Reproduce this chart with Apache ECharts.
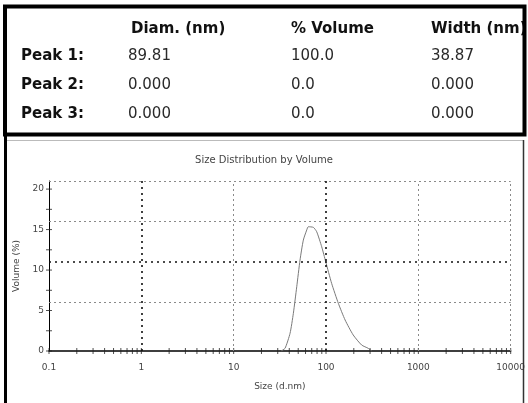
<!DOCTYPE html>
<html>
<head>
<meta charset="utf-8">
<script src="https://cdn.jsdelivr.net/npm/echarts@6/dist/echarts.min.js"></script>
<style>
  html, body { margin: 0; padding: 0; background: #fff; }
  #chart { width: 528px; height: 403px; }
</style>
</head>
<body>
<div id="chart"></div>
<script>
// peak table
var tableHeaders = ['Diam. (nm)', '% Volume', 'Width (nm)'];
var peakNames = ['Peak 1:', 'Peak 2:', 'Peak 3:'];
var peakDiam = ['89.81', '0.000', '0.000'];
var peakVolume = ['100.0', '0.0', '0.0'];
var peakWidth = ['38.87', '0.000', '0.000'];

// size distribution curve (d.nm, volume %)
var sizes = [32.6, 36.0, 40.8, 44.3, 48.2, 52.3, 56.8, 61.8, 64.3, 73.0, 79.3, 89.8, 99.3, 115, 136, 161, 197, 243, 287, 312];
var volumes = [0, 0.33, 2.19, 4.65, 7.94, 11.23, 13.7, 14.94, 15.35, 15.27, 14.73, 12.88, 11.02, 8.36, 5.89, 3.83, 1.98, 0.74, 0.33, 0];

// axes
var xTickLabels = ['0.1', '1', '10', '100', '1000', '10000'];
var xDecades = [0.1, 1, 10, 100, 1000, 10000];
var xMinorSteps = [2, 3, 4, 5, 6, 7, 8, 9];
var yTickValues = [0, 5, 10, 15, 20];
var yMinorValues = [0, 2.5, 5, 7.5, 10, 12.5, 15, 17.5, 20];
// dotted grid lines as printed (shifted from the ticks in the scan)
var gridRowsLight = [6, 16, 21];
var gridRowsDark = [11];
var gridColsLight = [10, 1000, 10000];
var gridColsDark = [1, 100];

var chart = echarts.init(document.getElementById('chart'));

var data = sizes.map(function (s, i) { return [s, volumes[i]]; });

var xTickMarks = [];
xDecades.forEach(function (d) {
    xTickMarks.push([d, 0]);
    if (d < 10000) {
        xMinorSteps.forEach(function (k) { xTickMarks.push([d * k, 0]); });
    }
});
var yTickMarks = yMinorValues.map(function (v) { return [0.1, v]; });

var lightDot = { color: '#8a8a8a', width: 1, type: [2, 3] };
var darkDot = { color: '#111', width: 1.6, type: [2, 4] };
var markData = [];
gridRowsLight.forEach(function (v) { markData.push({ yAxis: v, lineStyle: lightDot }); });
gridRowsDark.forEach(function (v) { markData.push({ yAxis: v, lineStyle: darkDot }); });
gridColsLight.forEach(function (v) { markData.push({ xAxis: v, lineStyle: lightDot }); });
gridColsDark.forEach(function (v) { markData.push({ xAxis: v, lineStyle: darkDot }); });

// table text
var colX = [131, 291, 431];
var rowY = [56, 85, 114];
var boldFont = 'bold 15px "DejaVu Sans"';
var normFont = '15px "DejaVu Sans"';
var graphics = [];
tableHeaders.forEach(function (h, i) {
    graphics.push({ type: 'text', z: 1, style: { text: h, x: colX[i], y: 29, font: boldFont, fill: '#111', verticalAlign: 'middle' } });
});
peakNames.forEach(function (p, r) {
    graphics.push({ type: 'text', z: 1, style: { text: p, x: 21, y: rowY[r], font: boldFont, fill: '#111', verticalAlign: 'middle' } });
    [peakDiam[r], peakVolume[r], peakWidth[r]].forEach(function (v, c) {
        graphics.push({ type: 'text', z: 1, style: { text: v, x: colX[c] - (c === 0 ? 3 : 0), y: rowY[r], font: normFont, fill: '#2a2a2a', verticalAlign: 'middle' } });
    });
});
// table frame and chart panel edges
graphics.push({ type: 'rect', z: 10, shape: { x: 5, y: 6.5, width: 519.5, height: 128 }, style: { fill: 'none', stroke: '#000', lineWidth: 4 } });
graphics.push({ type: 'line', z: 10, shape: { x1: 5.5, y1: 134, x2: 5.5, y2: 403 }, style: { stroke: '#000', lineWidth: 3 } });
graphics.push({ type: 'line', z: 10, shape: { x1: 7, y1: 140.5, x2: 523, y2: 140.5 }, style: { stroke: '#bbb', lineWidth: 1 } });
graphics.push({ type: 'line', z: 10, shape: { x1: 523.5, y1: 140, x2: 523.5, y2: 403 }, style: { stroke: '#333', lineWidth: 1.5 } });

var option = {
    backgroundColor: '#fff',
    animation: false,
    title: {
        text: 'Size Distribution by Volume',
        left: 'center',
        top: 150,
        textStyle: { fontFamily: 'DejaVu Sans', fontSize: 10, fontWeight: 'normal', color: '#444' }
    },
    grid: { left: 49, right: 17, top: 181, bottom: 52 },
    xAxis: {
        type: 'log',
        logBase: 10,
        min: 0.1,
        max: 10000,
        name: 'Size (d.nm)',
        nameLocation: 'middle',
        nameGap: 31,
        nameTextStyle: { fontFamily: 'DejaVu Sans', fontSize: 9, color: '#444' },
        axisLine: { lineStyle: { color: '#000', width: 1.5 } },
        axisTick: { show: false },
        splitLine: { show: false },
        axisLabel: {
            margin: 12,
            fontFamily: 'DejaVu Sans',
            fontSize: 9,
            color: '#444',
            formatter: function (v, i) { return xTickLabels[i]; }
        }
    },
    yAxis: {
        type: 'value',
        min: 0,
        max: 21,
        name: 'Volume (%)',
        nameLocation: 'middle',
        nameGap: 17,
        nameTextStyle: { fontFamily: 'DejaVu Sans', fontSize: 9, color: '#444' },
        axisLine: { show: true, lineStyle: { color: '#000', width: 1 } },
        axisTick: { show: false },
        splitLine: { show: false },
        axisLabel: {
            customValues: yTickValues,
            margin: 5,
            fontFamily: 'DejaVu Sans',
            fontSize: 9,
            color: '#444'
        }
    },
    series: [
        {
            name: 'Volume',
            type: 'line',
            data: data,
            showSymbol: false,
            smooth: 0.2,
            lineStyle: { color: '#7a7a7a', width: 1 },
            z: 3,
            markLine: {
                silent: true,
                symbol: 'none',
                label: { show: false },
                data: markData
            }
        },
        {
            type: 'scatter',
            data: xTickMarks,
            symbol: 'rect',
            symbolSize: [1, 6],
            itemStyle: { color: '#222' },
            clip: false,
            silent: true,
            z: 4
        },
        {
            type: 'scatter',
            data: yTickMarks,
            symbol: 'rect',
            symbolSize: [6, 1],
            itemStyle: { color: '#222' },
            clip: false,
            silent: true,
            z: 4
        }
    ],
    graphic: graphics
};

chart.setOption(option);
</script>
</body>
</html>
